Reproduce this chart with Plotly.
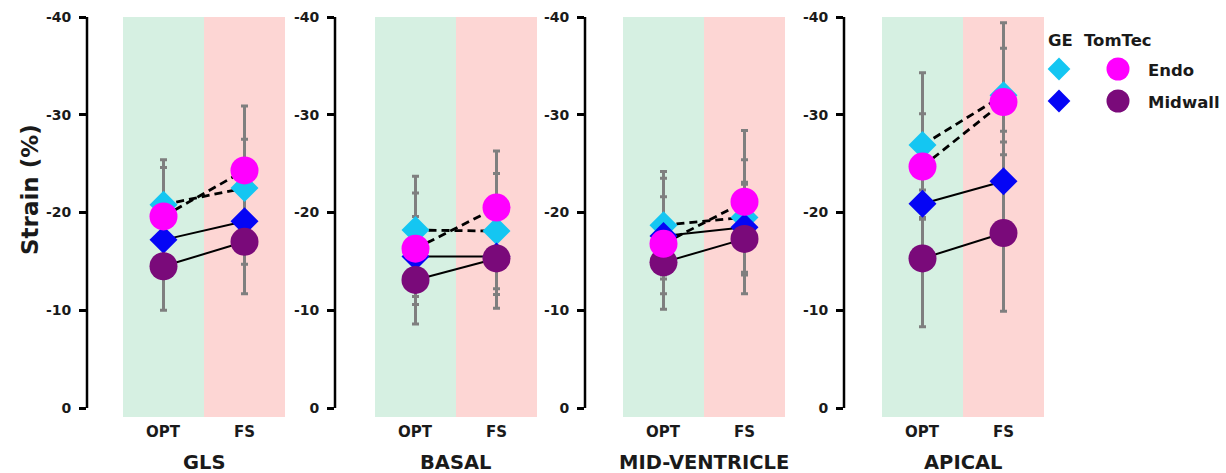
import plotly.graph_objects as go

# ---------------- data ----------------
panels = ["GLS", "BASAL", "MID-VENTRICLE", "APICAL"]
conditions = ["OPT", "FS"]
y_ticks = [-40, -30, -20, -10, 0]

# mean strain per panel (GLS, BASAL, MID, APICAL)
ge_endo_opt = [-20.8, -18.2, -18.7, -26.9]
ge_endo_fs = [-22.5, -18.1, -19.5, -32.0]
ge_mid_opt = [-17.2, -15.5, -17.6, -20.9]
ge_mid_fs = [-19.1, -15.5, -18.5, -23.2]
tt_endo_opt = [-19.6, -16.3, -16.8, -24.7]
tt_endo_fs = [-24.3, -20.5, -21.1, -31.3]
tt_mid_opt = [-14.5, -13.1, -14.9, -15.3]
tt_mid_fs = [-17.0, -15.3, -17.3, -17.9]

# standard deviations
ge_endo_opt_sd = [3.8, 5.5, 5.5, 7.4]
ge_endo_fs_sd = [5.0, 5.9, 5.9, 4.8]
ge_mid_opt_sd = [3.5, 4.1, 4.0, 4.5]
ge_mid_fs_sd = [4.4, 3.9, 4.6, 5.1]
tt_endo_opt_sd = [5.8, 5.7, 6.7, 5.4]
tt_endo_fs_sd = [6.6, 5.8, 7.3, 8.1]
tt_mid_opt_sd = [4.5, 4.5, 3.2, 7.0]
tt_mid_fs_sd = [5.3, 5.1, 5.6, 8.0]

# ---------------- styles ----------------
W, H = 1226, 473
FONT = "DejaVu Sans"
TXT = "#1a1a1a"
C_CYAN = "#14C6F2"
C_BLUE = "#0505F5"
C_MAG = "#FF00FF"
C_PUR = "#7A0A7A"
GREEN = "#D6F0E2"
RED = "#FDD6D4"
GRAY = "#7F7F7F"

series = [
    # name, opt, fs, opt_sd, fs_sd, color, symbol, dash
    ("GE Endo", ge_endo_opt, ge_endo_fs, ge_endo_opt_sd, ge_endo_fs_sd, C_CYAN, "diamond", "dash"),
    ("GE Midwall", ge_mid_opt, ge_mid_fs, ge_mid_opt_sd, ge_mid_fs_sd, C_BLUE, "diamond", "solid"),
    ("TomTec Midwall", tt_mid_opt, tt_mid_fs, tt_mid_opt_sd, tt_mid_fs_sd, C_PUR, "circle", "solid"),
    ("TomTec Endo", tt_endo_opt, tt_endo_fs, tt_endo_opt_sd, tt_endo_fs_sd, C_MAG, "circle", "dash"),
]

# panel geometry in pixels (layout only)
axis_px = [87, 335, 585, 844]
shade_px = [123, 375, 623, 882]
cat_w = 81
y_top_px, y_zero_px = 17, 408
y_bottom_px = 417
units_per_px = 40 / (y_zero_px - y_top_px)
y_low = (y_bottom_px - y_zero_px) * units_per_px

fig = go.Figure()
layout = dict(
    width=W, height=H, margin=dict(l=0, r=0, t=0, b=0, pad=0, autoexpand=False), autosize=False,
    paper_bgcolor="white", plot_bgcolor="rgba(0,0,0,0)",
    showlegend=False, shapes=[], annotations=[],
)

ydom = [1 - y_bottom_px / H, 1 - y_top_px / H]

for i, pname in enumerate(panels):
    k = "" if i == 0 else str(i + 1)
    xa, ya = "x" + k, "y" + k
    left_val = -0.5 - (shade_px[i] - axis_px[i]) / cat_w
    dom = [axis_px[i] / W, (shade_px[i] + 2 * cat_w) / W]
    layout["xaxis" + k] = dict(domain=dom, range=[left_val, 1.5], visible=False,
                                anchor=ya, fixedrange=True, automargin=False)
    layout["yaxis" + k] = dict(domain=ydom, range=[y_low, -40.0], anchor=xa, automargin=False,
                                showgrid=False, zeroline=False, showline=False,
                                ticks="outside", ticklen=7, tickwidth=2.5, tickcolor="black",
                                tickvals=y_ticks, ticktext=[str(v) for v in y_ticks],
                                ticklabelstandoff=5, fixedrange=True,
                                tickfont=dict(family=FONT, size=14, color=TXT, weight="bold"))
    # shaded backgrounds
    layout["shapes"].append(dict(type="rect", xref=xa, yref=ya + " domain", x0=-0.5, x1=0.5,
                                 y0=0, y1=1, fillcolor=GREEN, line_width=0, layer="below"))
    layout["shapes"].append(dict(type="rect", xref=xa, yref=ya + " domain", x0=0.5, x1=1.5,
                                 y0=0, y1=1, fillcolor=RED, line_width=0, layer="below"))
    # axis line from 0 to -40
    layout["shapes"].append(dict(type="line", xref=xa + " domain", yref=ya, x0=0, x1=0,
                                 y0=y_ticks[-1], y1=y_ticks[0], line=dict(color="black", width=2.5)))
    # category labels
    for j, c in enumerate(conditions):
        layout["annotations"].append(dict(text=c, xref=xa, yref="paper", x=j, y=1 - 432 / H,
                                          showarrow=False, xanchor="center", yanchor="middle",
                                          font=dict(family=FONT, size=15, color=TXT, weight="bold")))
    # panel title
    layout["annotations"].append(dict(text=pname, xref=xa, yref="paper", x=0.5, y=1 - 462 / H,
                                      showarrow=False, xanchor="center", yanchor="middle",
                                      font=dict(family=FONT, size=19.5, color=TXT, weight="bold")))

    # error bars (behind)
    for (name, o, f, osd, fsd, col, sym, dash) in series:
        fig.add_trace(go.Scatter(x=[0, 1], y=[o[i], f[i]], xaxis=xa, yaxis=ya, mode="markers",
                                 marker=dict(size=1, color="rgba(0,0,0,0)"),
                                 error_y=dict(type="data", array=[osd[i], fsd[i]], color=GRAY,
                                              thickness=3, width=3.5),
                                 hoverinfo="skip"))
    # connecting lines
    for (name, o, f, osd, fsd, col, sym, dash) in series:
        fig.add_trace(go.Scatter(x=[0, 1], y=[o[i], f[i]], xaxis=xa, yaxis=ya, mode="lines",
                                 line=dict(color="black", width=2.0 if dash == "solid" else 2.8,
                                           dash="8px,5px" if dash == "dash" else "solid"),
                                 hoverinfo="skip"))
    # markers
    for (name, o, f, osd, fsd, col, sym, dash) in series:
        fig.add_trace(go.Scatter(x=[0, 1], y=[o[i], f[i]], xaxis=xa, yaxis=ya, mode="markers",
                                 name=name,
                                 marker=dict(symbol=sym, size=21.5 if sym == "diamond" else 28,
                                             color=col, line=dict(width=0))))

# y-axis title
layout["annotations"].append(dict(text="Strain (%)", xref="paper", yref="paper",
                                  x=30 / W, y=1 - 190 / H, textangle=-90, showarrow=False,
                                  xanchor="center", yanchor="middle",
                                  font=dict(family=FONT, size=23, color=TXT, weight="bold")))

# legend (drawn manually on a pixel overlay axis)
layout["xaxis5"] = dict(domain=[0, 1], range=[0, W], visible=False, anchor="y5",
                        fixedrange=True, automargin=False)
layout["yaxis5"] = dict(domain=[0, 1], range=[H, 0], visible=False, anchor="x5",
                        fixedrange=True, automargin=False)
leg_items = [(1059, 69, C_CYAN, "diamond"), (1059, 101, C_BLUE, "diamond"),
             (1118, 69, C_MAG, "circle"), (1118, 101, C_PUR, "circle")]
for (lx, ly, col, sym) in leg_items:
    fig.add_trace(go.Scatter(x=[lx], y=[ly], xaxis="x5", yaxis="y5", mode="markers",
                             marker=dict(symbol=sym, size=17.5 if sym == "diamond" else 23,
                                         color=col, line=dict(width=0)),
                             hoverinfo="skip"))
for (txt, px, py) in [("GE", 1046, 41), ("TomTec", 1082, 41), ("Endo", 1146, 70), ("Midwall", 1146, 102)]:
    layout["annotations"].append(dict(text=txt, xref="paper", yref="paper", x=px / W, y=1 - py / H,
                                      showarrow=False, xanchor="left", yanchor="middle",
                                      font=dict(family=FONT, size=16.5, color=TXT, weight="bold")))

fig.update_layout(**layout)
fig.write_html("out.html", config={"displayModeBar": False},
               post_script="document.body.style.margin='0';document.body.style.overflow='hidden';")
